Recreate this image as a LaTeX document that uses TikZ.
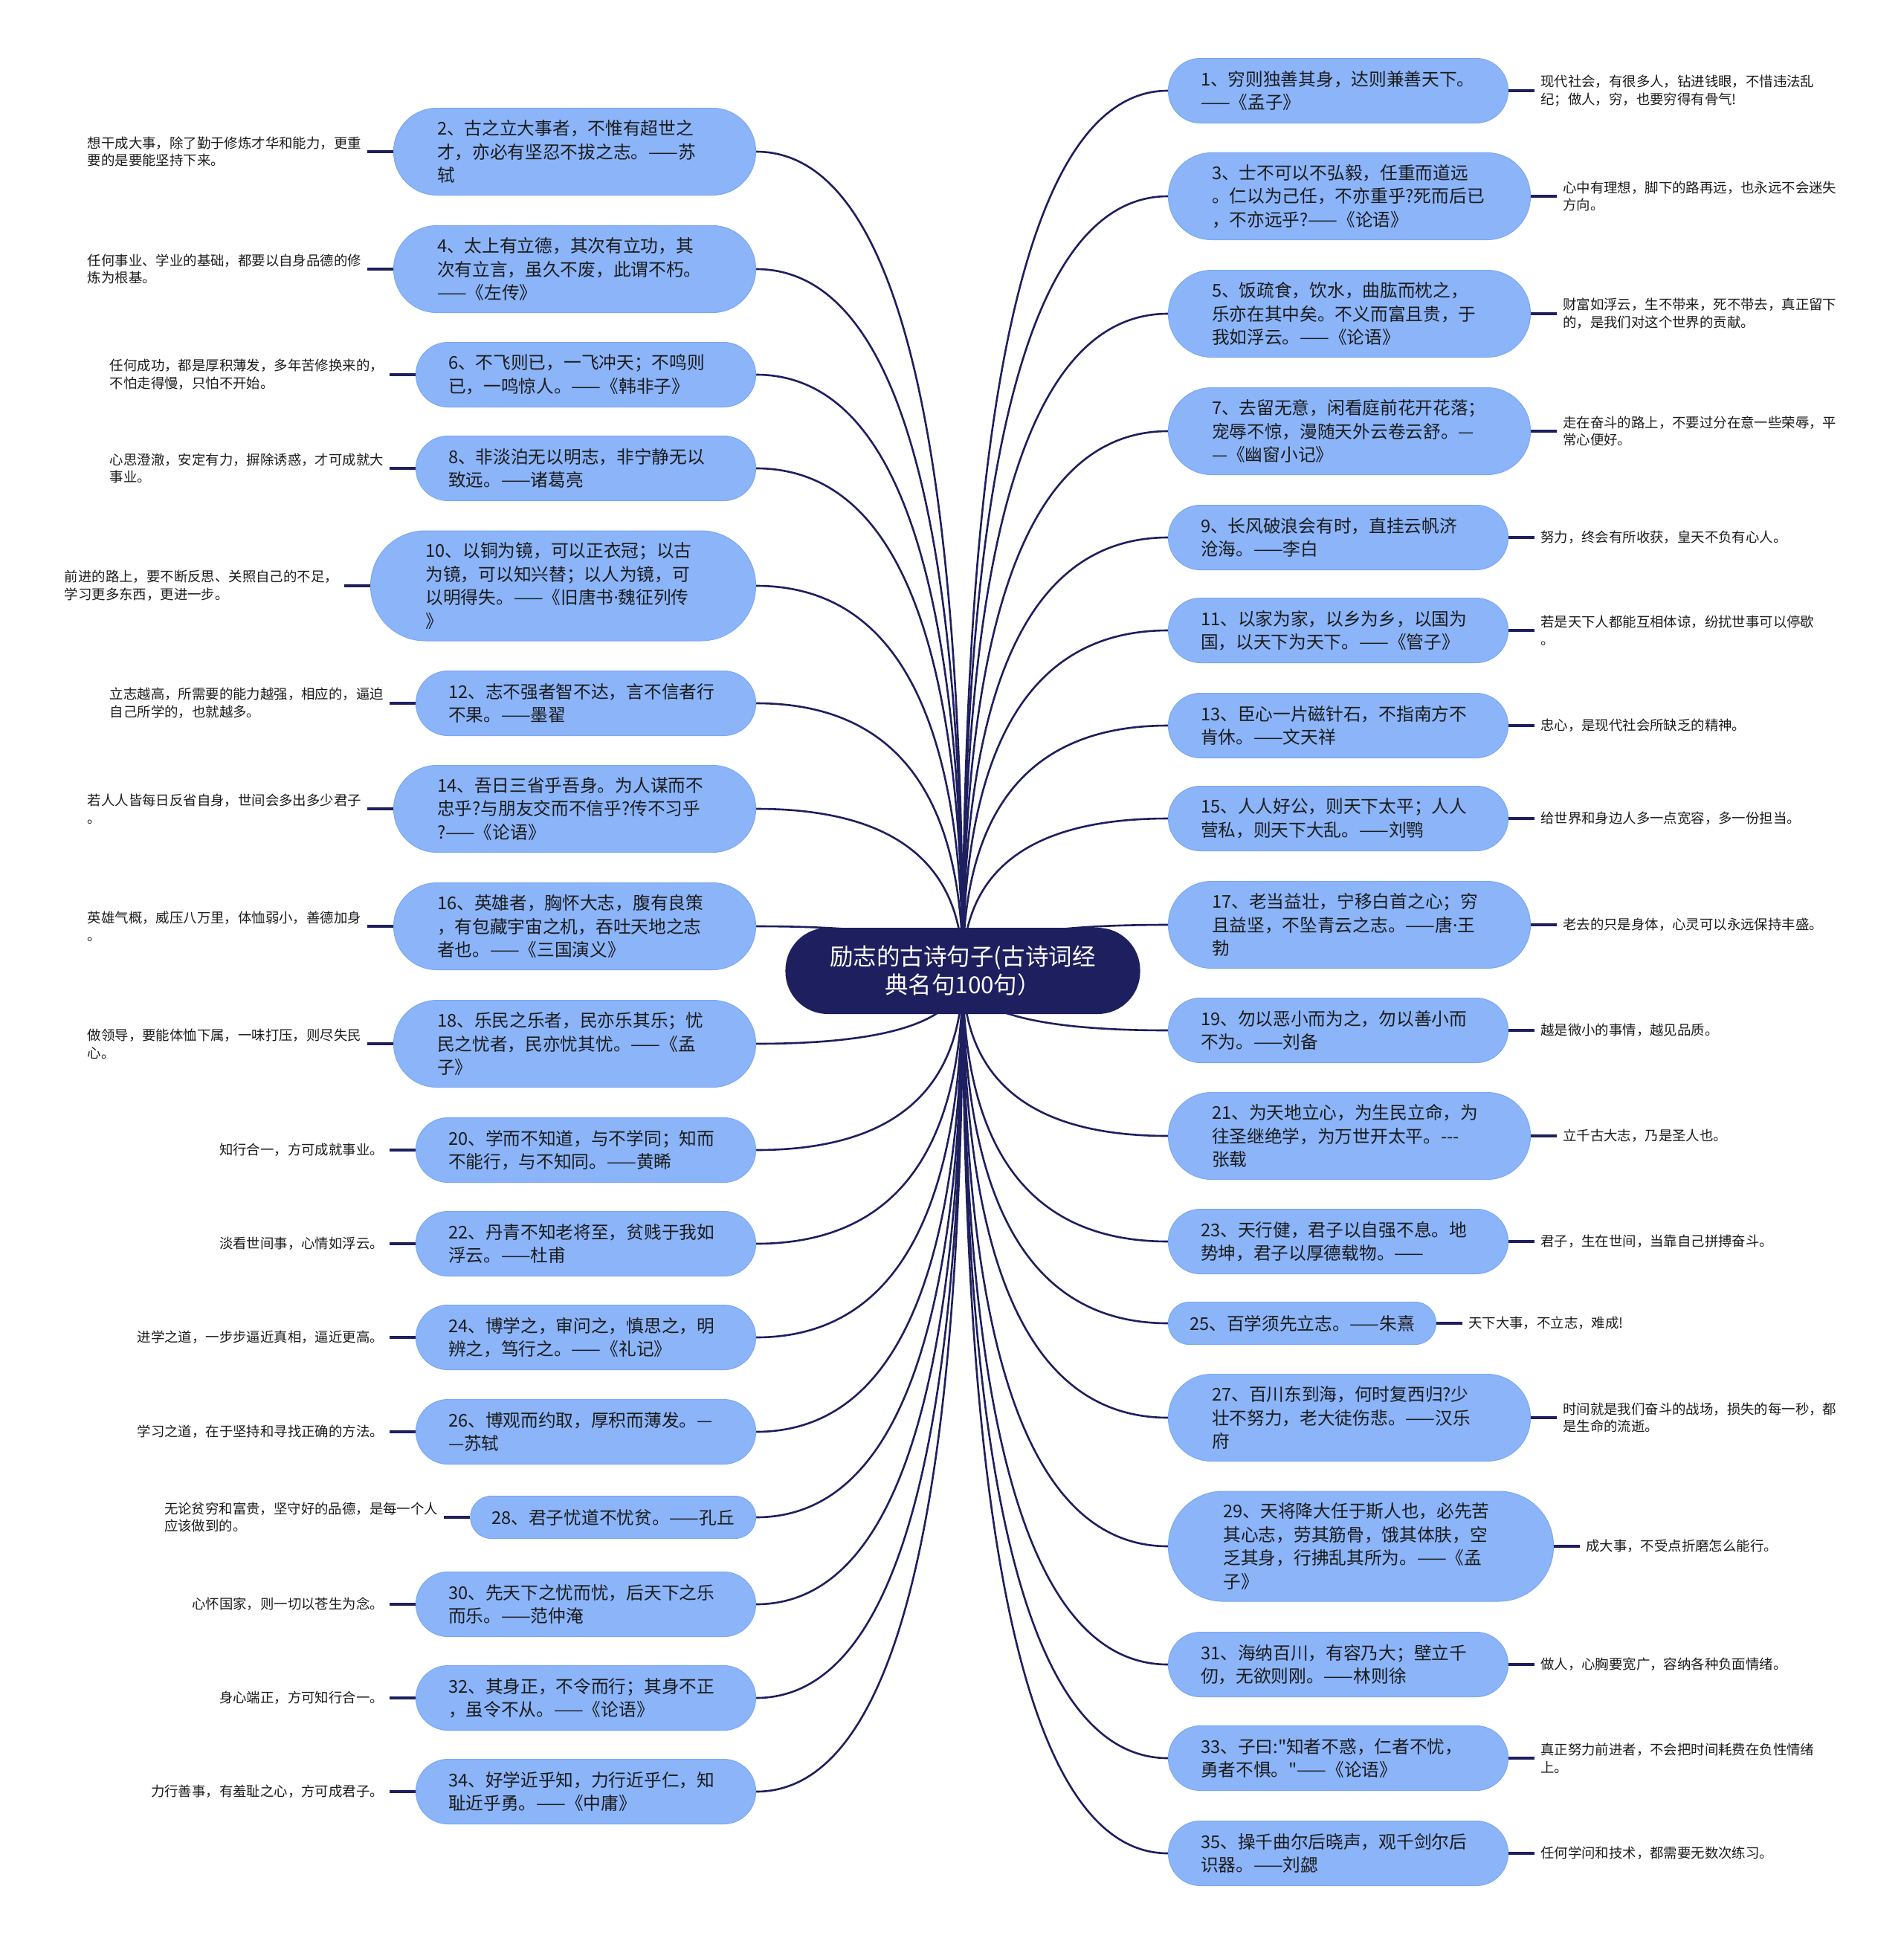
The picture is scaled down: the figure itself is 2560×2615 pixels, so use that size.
\documentclass[tikz,border=0pt]{standalone}
\usepackage{fontspec}
\setmainfont{Noto Sans CJK SC}[Ligatures=TeXOff]
\newfontfamily\latinfont{Noto Sans}
\usetikzlibrary{positioning,calc,backgrounds}

\definecolor{navy}{RGB}{30,31,94}
\definecolor{skyblue}{RGB}{139,180,249}
\definecolor{skyline}{RGB}{124,168,242}
\definecolor{ink}{RGB}{28,28,28}

\newcommand{\mdot}{{\latinfont ·}}

\tikzset{
  topic/.style={rectangle, fill=navy, text=white, minimum height=116pt, rounded corners=57pt,
    inner xsep=60pt, inner ysep=0pt, align=center, font=\fontsize{31.5pt}{38pt}\selectfont},
  quote/.style={rectangle, fill=skyblue, draw=skyline, line width=1pt, text=ink,
    inner ysep=0pt, align=left, font=\fontsize{23.7pt}{31.5pt}\selectfont},
  wide/.style={quote, text width=370pt},
  ln1/.style={minimum height=57pt, rounded corners=28pt, inner xsep=28.5pt},
  ln2/.style={minimum height=87pt, rounded corners=43pt, inner xsep=43.5pt},
  ln3/.style={minimum height=117pt, rounded corners=58pt, inner xsep=58.5pt},
  ln4/.style={minimum height=148pt, rounded corners=73.5pt, inner xsep=74pt},
  remark/.style={inner xsep=8pt, inner ysep=0pt, align=left, text=ink,
    font=\fontsize{18.4pt}{23.7pt}\selectfont},
  branch/.style={draw=navy, line width=2.6pt,
    to path={.. controls ($(\tikztostart)!0.667!(\tikztostart|-\tikztotarget)$)
      and ($(\tikztotarget)!0.667!(\tikztostart|-\tikztotarget)$) .. (\tikztotarget)}},
  twig/.style={draw=navy, line width=3.6pt}
}

\begin{document}
\begin{tikzpicture}[x=1pt,y=-1pt]
  \useasboundingbox (0,0) rectangle (2560,2615);

  % centre
  \node[topic] (c) at (1295,1306) {励志的古诗句子(古诗词经\\典名句100句）};

  % right side
  \node[wide, ln2, anchor=west] (n1) at (1571,122) {1、穷则独善其身，达则兼善天下。\\——《孟子》};
  \node[remark, right=35pt of n1] (r1) {现代社会，有很多人，钻进钱眼，不惜违法乱\\纪；做人，穷，也要穷得有骨气!};
  \node[wide, ln3, anchor=west] (n3) at (1571,264) {3、士不可以不弘毅，任重而道远\\。仁以为己任，不亦重乎?死而后已\\，不亦远乎?——《论语》};
  \node[remark, right=35pt of n3] (r3) {心中有理想，脚下的路再远，也永远不会迷失\\方向。};
  \node[wide, ln3, anchor=west] (n5) at (1571,422) {5、饭疏食，饮水，曲肱而枕之，\\乐亦在其中矣。不义而富且贵，于\\我如浮云。——《论语》};
  \node[remark, right=35pt of n5] (r5) {财富如浮云，生不带来，死不带去，真正留下\\的，是我们对这个世界的贡献。};
  \node[wide, ln3, anchor=west] (n7) at (1571,580) {7、去留无意，闲看庭前花开花落；\\宠辱不惊，漫随天外云卷云舒。—\\—《幽窗小记》};
  \node[remark, right=35pt of n7] (r7) {走在奋斗的路上，不要过分在意一些荣辱，平\\常心便好。};
  \node[wide, ln2, anchor=west] (n9) at (1571,723) {9、长风破浪会有时，直挂云帆济\\沧海。——李白};
  \node[remark, right=35pt of n9] (r9) {努力，终会有所收获，皇天不负有心人。};
  \node[wide, ln2, anchor=west] (n11) at (1571,848) {11、以家为家，以乡为乡，以国为\\国，以天下为天下。——《管子》};
  \node[remark, right=35pt of n11] (r11) {若是天下人都能互相体谅，纷扰世事可以停歇\\。};
  \node[wide, ln2, anchor=west] (n13) at (1571,976) {13、臣心一片磁针石，不指南方不\\肯休。——文天祥};
  \node[remark, right=35pt of n13] (r13) {忠心，是现代社会所缺乏的精神。};
  \node[wide, ln2, anchor=west] (n15) at (1571,1101) {15、人人好公，则天下太平；人人\\营私，则天下大乱。——刘鹗};
  \node[remark, right=35pt of n15] (r15) {给世界和身边人多一点宽容，多一份担当。};
  \node[wide, ln3, anchor=west] (n17) at (1571,1244) {17、老当益壮，宁移白首之心；穷\\且益坚，不坠青云之志。——唐\mdot 王\\勃};
  \node[remark, right=35pt of n17] (r17) {老去的只是身体，心灵可以永远保持丰盛。};
  \node[wide, ln2, anchor=west] (n19) at (1571,1386) {19、勿以恶小而为之，勿以善小而\\不为。——刘备};
  \node[remark, right=35pt of n19] (r19) {越是微小的事情，越见品质。};
  \node[wide, ln3, anchor=west] (n21) at (1571,1528) {21、为天地立心，为生民立命，为\\往圣继绝学，为万世开太平。---\\张载};
  \node[remark, right=35pt of n21] (r21) {立千古大志，乃是圣人也。};
  \node[wide, ln2, anchor=west] (n23) at (1571,1670) {23、天行健，君子以自强不息。地\\势坤，君子以厚德载物。——};
  \node[remark, right=35pt of n23] (r23) {君子，生在世间，当靠自己拼搏奋斗。};
  \node[quote, ln1, anchor=west] (n25) at (1571,1780) {25、百学须先立志。——朱熹};
  \node[remark, right=35pt of n25] (r25) {天下大事，不立志，难成!};
  \node[wide, ln3, anchor=west] (n27) at (1571,1907) {27、百川东到海，何时复西归?少\\壮不努力，老大徒伤悲。——汉乐\\府};
  \node[remark, right=35pt of n27] (r27) {时间就是我们奋斗的战场，损失的每一秒，都\\是生命的流逝。};
  \node[wide, ln4, anchor=west] (n29) at (1571,2080) {29、天将降大任于斯人也，必先苦\\其心志，劳其筋骨，饿其体肤，空\\乏其身，行拂乱其所为。——《孟\\子》};
  \node[remark, right=35pt of n29] (r29) {成大事，不受点折磨怎么能行。};
  \node[wide, ln2, anchor=west] (n31) at (1571,2239) {31、海纳百川，有容乃大；壁立千\\仞，无欲则刚。——林则徐};
  \node[remark, right=35pt of n31] (r31) {做人，心胸要宽广，容纳各种负面情绪。};
  \node[wide, ln2, anchor=west] (n33) at (1571,2365) {33、子曰:"知者不惑，仁者不忧，\\勇者不惧。"——《论语》};
  \node[remark, right=35pt of n33] (r33) {真正努力前进者，不会把时间耗费在负性情绪\\上。};
  \node[wide, ln2, anchor=west] (n35) at (1571,2493) {35、操千曲尔后晓声，观千剑尔后\\识器。——刘勰};
  \node[remark, right=35pt of n35] (r35) {任何学问和技术，都需要无数次练习。};

  % left side
  \node[wide, ln3, anchor=east] (n2) at (1017,204) {2、古之立大事者，不惟有超世之\\才，亦必有坚忍不拔之志。——苏\\轼};
  \node[remark, left=35pt of n2] (r2) {想干成大事，除了勤于修炼才华和能力，更重\\要的是要能坚持下来。};
  \node[wide, ln3, anchor=east] (n4) at (1017,362) {4、太上有立德，其次有立功，其\\次有立言，虽久不废，此谓不朽。\\——《左传》};
  \node[remark, left=35pt of n4] (r4) {任何事业、学业的基础，都要以自身品德的修\\炼为根基。};
  \node[wide, ln2, anchor=east] (n6) at (1017,504) {6、不飞则已，一飞冲天；不鸣则\\已，一鸣惊人。——《韩非子》};
  \node[remark, left=35pt of n6] (r6) {任何成功，都是厚积薄发，多年苦修换来的，\\不怕走得慢，只怕不开始。};
  \node[wide, ln2, anchor=east] (n8) at (1017,630) {8、非淡泊无以明志，非宁静无以\\致远。——诸葛亮};
  \node[remark, left=35pt of n8] (r8) {心思澄澈，安定有力，摒除诱惑，才可成就大\\事业。};
  \node[wide, ln4, anchor=east] (n10) at (1017,788) {10、以铜为镜，可以正衣冠；以古\\为镜，可以知兴替；以人为镜，可\\以明得失。——《旧唐书\mdot 魏征列传\\》};
  \node[remark, left=35pt of n10] (r10) {前进的路上，要不断反思、关照自己的不足，\\学习更多东西，更进一步。};
  \node[wide, ln2, anchor=east] (n12) at (1017,946) {12、志不强者智不达，言不信者行\\不果。——墨翟};
  \node[remark, left=35pt of n12] (r12) {立志越高，所需要的能力越强，相应的，逼迫\\自己所学的，也就越多。};
  \node[wide, ln3, anchor=east] (n14) at (1017,1088) {14、吾日三省乎吾身。为人谋而不\\忠乎?与朋友交而不信乎?传不习乎\\?——《论语》};
  \node[remark, left=35pt of n14] (r14) {若人人皆每日反省自身，世间会多出多少君子\\。};
  \node[wide, ln3, anchor=east] (n16) at (1017,1246) {16、英雄者，胸怀大志，腹有良策\\，有包藏宇宙之机，吞吐天地之志\\者也。——《三国演义》};
  \node[remark, left=35pt of n16] (r16) {英雄气概，威压八万里，体恤弱小，善德加身\\。};
  \node[wide, ln3, anchor=east] (n18) at (1017,1404) {18、乐民之乐者，民亦乐其乐；忧\\民之忧者，民亦忧其忧。——《孟\\子》};
  \node[remark, left=35pt of n18] (r18) {做领导，要能体恤下属，一味打压，则尽失民\\心。};
  \node[wide, ln2, anchor=east] (n20) at (1017,1547) {20、学而不知道，与不学同；知而\\不能行，与不知同。——黄睎};
  \node[remark, left=35pt of n20] (r20) {知行合一，方可成就事业。};
  \node[wide, ln2, anchor=east] (n22) at (1017,1673) {22、丹青不知老将至，贫贱于我如\\浮云。——杜甫};
  \node[remark, left=35pt of n22] (r22) {淡看世间事，心情如浮云。};
  \node[wide, ln2, anchor=east] (n24) at (1017,1799) {24、博学之，审问之，慎思之，明\\辨之，笃行之。——《礼记》};
  \node[remark, left=35pt of n24] (r24) {进学之道，一步步逼近真相，逼近更高。};
  \node[wide, ln2, anchor=east] (n26) at (1017,1926) {26、博观而约取，厚积而薄发。—\\—苏轼};
  \node[remark, left=35pt of n26] (r26) {学习之道，在于坚持和寻找正确的方法。};
  \node[quote, ln1, anchor=east] (n28) at (1017,2041) {28、君子忧道不忧贫。——孔丘};
  \node[remark, left=35pt of n28] (r28) {无论贫穷和富贵，坚守好的品德，是每一个人\\应该做到的。};
  \node[wide, ln2, anchor=east] (n30) at (1017,2158) {30、先天下之忧而忧，后天下之乐\\而乐。——范仲淹};
  \node[remark, left=35pt of n30] (r30) {心怀国家，则一切以苍生为念。};
  \node[wide, ln2, anchor=east] (n32) at (1017,2284) {32、其身正，不令而行；其身不正\\，虽令不从。——《论语》};
  \node[remark, left=35pt of n32] (r32) {身心端正，方可知行合一。};
  \node[wide, ln2, anchor=east] (n34) at (1017,2410) {34、好学近乎知，力行近乎仁，知\\耻近乎勇。——《中庸》};
  \node[remark, left=35pt of n34] (r34) {力行善事，有羞耻之心，方可成君子。};

  % connectors behind the nodes
  \begin{pgfonlayer}{background}
    \fill[white] (0,0) rectangle (2560,2615);
    \foreach \k in {1,3,...,35}
      \draw[branch] (c.center) to (n\k.west);
    \foreach \k in {2,4,...,34}
      \draw[branch] (c.center) to (n\k.east);
  \end{pgfonlayer}
  \foreach \k in {1,3,...,35}
    \draw[twig] (n\k.east) -- (r\k.west);
  \foreach \k in {2,4,...,34}
    \draw[twig] (n\k.west) -- (r\k.east);
\end{tikzpicture}
\end{document}
